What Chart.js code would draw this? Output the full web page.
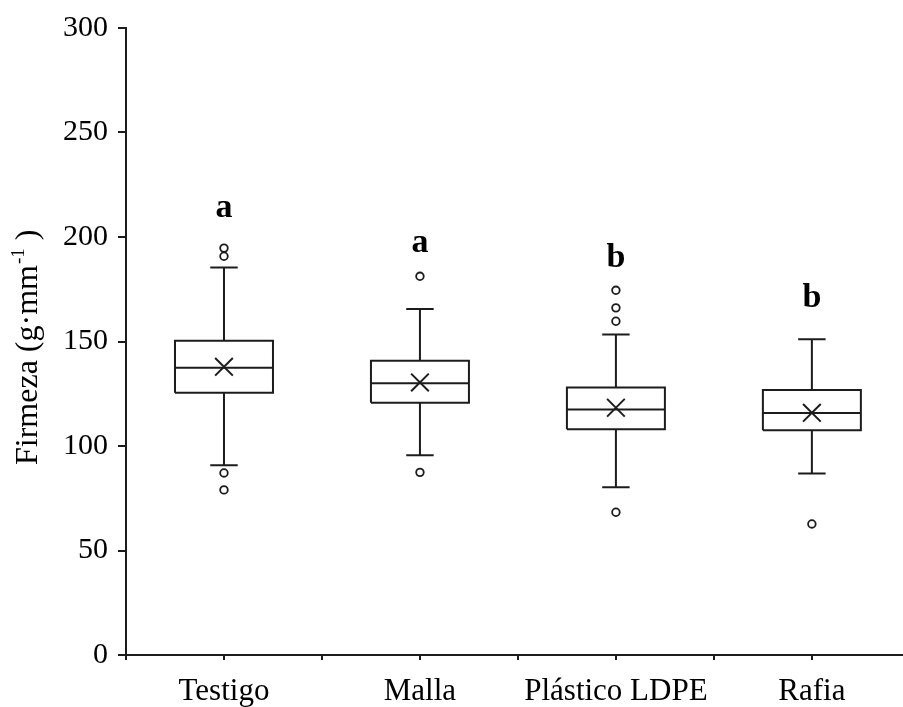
<!DOCTYPE html>
<html>
<head>
<meta charset="utf-8">
<script src="https://cdn.jsdelivr.net/npm/chart.js@4/dist/chart.umd.min.js"></script>
<style>
  body { margin: 0; background: #fff; }
  #wrap { width: 903px; height: 707px; }
</style>
</head>
<body>
<div id="wrap"><canvas id="main-chart" width="903" height="707"></canvas></div>
<script>
// Categories and their positions on the x axis
const categories = ["Testigo", "Malla", "Plástico LDPE", "Rafia"];
const positions = [1, 3, 5, 7];
const xTicks = [0, 1, 2, 3, 4, 5, 6, 7];

// Box plot values
const q1 = [125.5, 120.7, 108.0, 107.5];
const medians = [137.4, 130.0, 117.5, 115.8];
const q3 = [150.3, 140.8, 128.0, 126.8];
const whiskerLow = [90.8, 95.6, 80.3, 86.8];
const whiskerHigh = [185.4, 165.5, 153.4, 151.1];
const means = [137.9, 130.4, 118.3, 115.9];
const outliers = [
  [194.7, 190.8, 87.1, 79.0],
  [181.2, 87.4],
  [174.5, 166.1, 159.7, 68.3],
  [62.7],
];

// Significance letters
const letters = ["a", "a", "b", "b"];
const letterValues = [209.4, 192.8, 185.5, 166.6];

const yTicks = [0, 50, 100, 150, 200, 250, 300];

const boxHalf = 0.5;
const capHalf = 0.14;
const ink = "#1c1c1c";
const serif = "'Liberation Serif', 'Times New Roman', serif";

// Build segments, separated by null points
const boxPts = [];
const medianPts = [];
const whiskerPts = [];
const capPts = [];
positions.forEach((x, i) => {
  boxPts.push(
    { x: x - boxHalf, y: q1[i] },
    { x: x + boxHalf, y: q1[i] },
    { x: x + boxHalf, y: q3[i] },
    { x: x - boxHalf, y: q3[i] },
    { x: x - boxHalf, y: q1[i] },
    { x: x, y: null }
  );
  medianPts.push({ x: x - boxHalf, y: medians[i] }, { x: x + boxHalf, y: medians[i] }, { x: x, y: null });
  whiskerPts.push(
    { x: x, y: q3[i] }, { x: x, y: whiskerHigh[i] }, { x: x, y: null },
    { x: x, y: q1[i] }, { x: x, y: whiskerLow[i] }, { x: x, y: null }
  );
  capPts.push(
    { x: x - capHalf, y: whiskerHigh[i] }, { x: x + capHalf, y: whiskerHigh[i] }, { x: x, y: null },
    { x: x - capHalf, y: whiskerLow[i] }, { x: x + capHalf, y: whiskerLow[i] }, { x: x, y: null }
  );
});
const meanPts = positions.map((x, i) => ({ x: x, y: means[i] }));
const outlierPts = [];
positions.forEach((x, i) => {
  outliers[i].forEach((v) => outlierPts.push({ x: x, y: v }));
});

function lineSet(data) {
  return {
    data: data,
    showLine: true,
    spanGaps: false,
    borderColor: ink,
    borderWidth: 2,
    borderJoinStyle: "miter",
    borderCapStyle: "butt",
    pointRadius: 0,
    tension: 0,
    fill: false,
  };
}

// Letters above the boxes and the y axis title
const annotations = {
  id: "annotations",
  afterDraw(chart) {
    const ctx = chart.ctx;
    const xs = chart.scales.x;
    const ys = chart.scales.y;
    ctx.save();
    ctx.fillStyle = "#000";
    ctx.font = "bold 34px " + serif;
    ctx.textAlign = "center";
    ctx.textBaseline = "alphabetic";
    positions.forEach((x, i) => {
      ctx.fillText(letters[i], xs.getPixelForValue(x), ys.getPixelForValue(letterValues[i]));
    });

    // Rotated y title with superscript
    ctx.translate(37, 465);
    ctx.rotate(-Math.PI / 2);
    ctx.textAlign = "left";
    ctx.font = "32px " + serif;
    const main = "Firmeza (g·mm";
    ctx.fillText(main, 0, 0);
    let w = ctx.measureText(main).width;
    ctx.font = "19px " + serif;
    ctx.fillText("-1", w + 1, -13);
    w += ctx.measureText("-1").width + 1;
    ctx.font = "32px " + serif;
    ctx.fillText(" )", w, 0);
    ctx.restore();
  },
};

const chartCtx = document.getElementById("main-chart").getContext("2d");

new Chart(chartCtx, {
  type: "scatter",
  data: {
    datasets: [
      lineSet(boxPts),
      lineSet(medianPts),
      lineSet(whiskerPts),
      lineSet(capPts),
      {
        data: meanPts,
        showLine: false,
        pointStyle: "crossRot",
        pointRadius: 12.5,
        borderColor: ink,
        borderWidth: 2,
        backgroundColor: ink,
      },
      {
        data: outlierPts,
        showLine: false,
        pointStyle: "circle",
        pointRadius: 3.8,
        borderColor: ink,
        borderWidth: 1.8,
        backgroundColor: "#fff",
      },
    ],
  },
  options: {
    responsive: false,
    animation: false,
    layout: { autoPadding: false, padding: { top: 28, right: 0, left: 0, bottom: 0 } },
    plugins: {
      legend: { display: false },
      tooltip: { enabled: false },
    },
    scales: {
      x: {
        type: "linear",
        min: 0,
        max: 7.93,
        afterBuildTicks: (scale) => {
          scale.ticks = xTicks.map((v) => ({ value: v }));
        },
        afterFit: (scale) => {
          scale.height = 52;
          scale.paddingLeft = 0;
          scale.paddingRight = 0;
        },
        ticks: {
          autoSkip: false,
          maxRotation: 0,
          minRotation: 0,
          padding: 13,
          color: "#000",
          font: { family: serif, size: 31 },
          callback: (v) => {
            const i = positions.indexOf(v);
            return i >= 0 ? categories[i] : "";
          },
        },
        grid: {
          drawOnChartArea: false,
          drawTicks: true,
          tickLength: 5,
          color: ink,
          lineWidth: 2,
        },
        border: { display: true, color: ink, width: 2 },
      },
      y: {
        min: 0,
        max: 300,
        afterBuildTicks: (scale) => {
          scale.ticks = yTicks.map((v) => ({ value: v }));
        },
        afterFit: (scale) => {
          scale.width = 126;
        },
        ticks: {
          padding: 10,
          color: "#000",
          font: { family: serif, size: 30 },
        },
        grid: {
          drawOnChartArea: false,
          drawTicks: true,
          tickLength: 8,
          color: ink,
          lineWidth: 2,
        },
        border: { display: true, color: ink, width: 2 },
      },
    },
  },
  plugins: [annotations],
});
</script>
</body>
</html>
